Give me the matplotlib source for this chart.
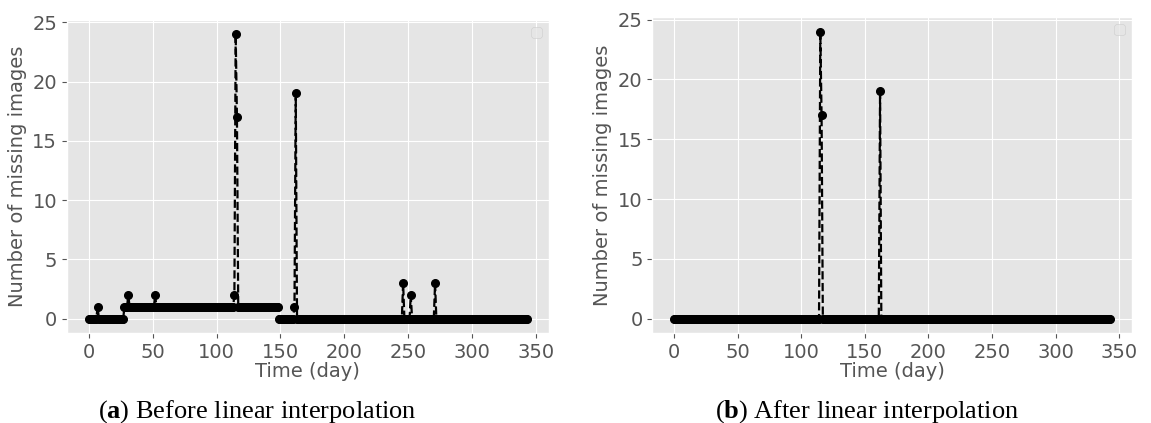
import numpy as np
import matplotlib
matplotlib.use("Agg")
import matplotlib.pyplot as plt

plt.style.use("ggplot")

# daily counts of missing images
n_days = 344
level_values = [0, 1, 0]
level_lengths = [28, 121, 195]

# days that stand out from the base level (before interpolation)
spike_days_a = [7, 31, 52, 114, 115, 116, 161, 162, 246, 252, 271]
spike_vals_a = [1, 2, 2, 2, 24, 17, 1, 19, 3, 2, 3]

# after linear interpolation only these remain
spike_days_b = [115, 116, 162]
spike_vals_b = [24, 17, 19]

captions = ["a", "b"]
caption_text = [" Before linear interpolation", " After linear interpolation"]

days = np.arange(n_days)

before = np.repeat(level_values, level_lengths).astype(float)
before[spike_days_a] = spike_vals_a

after = np.zeros(n_days)
after[spike_days_b] = spike_vals_b

fig = plt.figure(figsize=(11.51, 4.23), dpi=100)
ax1 = fig.add_axes([0.058, 0.213, 0.419, 0.740])
ax2 = fig.add_axes([0.5667, 0.213, 0.4168, 0.746])

for ax, series in [(ax1, before), (ax2, after)]:
    ax.plot(days, series, "o--", color="black", markersize=5.5, linewidth=1.6)
    ax.set_xlabel("Time (day)", fontsize=14, labelpad=0)
    ax.set_ylabel("Number of missing images", fontsize=14)
    ax.tick_params(labelsize=14)
    ax.set_xticks([0, 50, 100, 150, 200, 250, 300, 350])
    ax.set_yticks([0, 5, 10, 15, 20, 25])
    ax.legend(handles=[], loc="upper right")

plt.rcParams["mathtext.fontset"] = "custom"
plt.rcParams["mathtext.bf"] = "Liberation Serif:bold"
plt.rcParams["mathtext.rm"] = "Liberation Serif"

for x, c, t in [(0.2235, captions[0], caption_text[0]), (0.7535, captions[1], caption_text[1])]:
    fig.text(x, 0.027, "(" + r"$\mathbf{" + c + "}$" + ")" + t,
             family="Liberation Serif", fontsize=19, ha="center", va="center")

fig.savefig("out.png", dpi=100)
